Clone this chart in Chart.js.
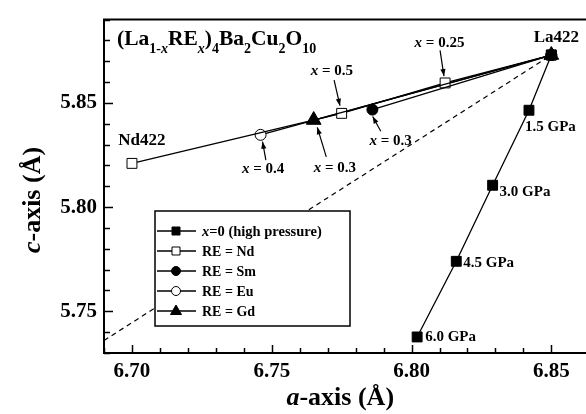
<!DOCTYPE html>
<html>
<head>
<meta charset="utf-8">
<script src="https://cdn.jsdelivr.net/npm/chart.js@4.4.1/dist/chart.umd.min.js"></script>
<style>
  body { margin: 0; background: #fff; }
  #wrap { width: 586px; height: 414px; }
</style>
</head>
<body>
<div id="wrap"><canvas id="chart" width="586" height="414"></canvas></div>
<script>
// lattice parameters (Angstrom)
const pressureLabels = ['0 GPa', '1.5 GPa', '3.0 GPa', '4.5 GPa', '6.0 GPa'];
const pressureA = [6.850, 6.842, 6.829, 6.816, 6.802];
const pressureC = [5.873, 5.8465, 5.8105, 5.774, 5.7377];

const ndA = [6.700, 6.775, 6.812, 6.850];
const ndC = [5.821, 5.845, 5.8596, 5.873];
const smA = [6.786, 6.850];
const smC = [5.8468, 5.873];
const euA = [6.746, 6.850];
const euC = [5.8347, 5.873];
const gdA = [6.765, 6.850];
const gdC = [5.8418, 5.873];

// constant c/a line through La422
const ratioA = [6.69, 6.85];
const ratioC = [5.736, 5.873];

const xTicks = [6.70, 6.75, 6.80, 6.85];
const yTicks = [5.75, 5.80, 5.85];

// x = ... annotations (label centre, arrow start, arrow tip), data units
const noteX = ['0.25', '0.5', '0.3', '0.3', '0.4'];
const notes = [
  { at: [6.8100, 5.8789], from: [6.8102, 5.8752], to: [6.8116, 5.8629] },
  { at: [6.7715, 5.8654], from: [6.7723, 5.8610], to: [6.7744, 5.8487] },
  { at: [6.7925, 5.8318], from: [6.7890, 5.8364], to: [6.7861, 5.8435] },
  { at: [6.7726, 5.8189], from: [6.7695, 5.8241], to: [6.7663, 5.8383] },
  { at: [6.7469, 5.8181], from: [6.7479, 5.8226], to: [6.7467, 5.8314] }
];
// pixel offsets of the pressure labels from their points
const gpaOffset = [null, [-4, 17], [7, 7], [7, 2], [8, 0]];

const SERIF = '"Liberation Serif", "Times New Roman", serif';
function font(size, italic) {
  return (italic ? 'italic ' : '') + 'bold ' + size + 'px ' + SERIF;
}
function pts(a, c) { return a.map((v, i) => ({ x: v, y: c[i] })); }

// draws a run of text pieces [text, size, italic, dy]
function rich(ctx, parts, x, y, align) {
  let w = 0;
  parts.forEach(p => { ctx.font = font(p[1], p[2]); w += ctx.measureText(p[0]).width; });
  let cx = align === 'center' ? x - w / 2 : (align === 'right' ? x - w : x);
  ctx.textAlign = 'left';
  parts.forEach(p => {
    ctx.font = font(p[1], p[2]);
    ctx.fillText(p[0], cx, y + (p[3] || 0));
    cx += ctx.measureText(p[0]).width;
  });
}

function arrow(ctx, x0, y0, x1, y1) {
  ctx.beginPath();
  ctx.moveTo(x0, y0);
  ctx.lineTo(x1, y1);
  ctx.stroke();
  const ang = Math.atan2(y1 - y0, x1 - x0);
  const L = 7, W = 2.6;
  ctx.beginPath();
  ctx.moveTo(x1, y1);
  ctx.lineTo(x1 - L * Math.cos(ang) + W * Math.sin(ang), y1 - L * Math.sin(ang) - W * Math.cos(ang));
  ctx.lineTo(x1 - L * Math.cos(ang) - W * Math.sin(ang), y1 - L * Math.sin(ang) + W * Math.cos(ang));
  ctx.closePath();
  ctx.fill();
}

function marker(ctx, style, filled, x, y) {
  ctx.beginPath();
  if (style === 'rect') ctx.rect(x - 4, y - 4, 8, 8);
  else if (style === 'circle') ctx.arc(x, y, 4.5, 0, Math.PI * 2);
  else { ctx.moveTo(x, y - 6); ctx.lineTo(x + 5.5, y + 3.5); ctx.lineTo(x - 5.5, y + 3.5); ctx.closePath(); }
  ctx.fillStyle = filled ? '#000' : '#fff';
  ctx.fill();
  ctx.stroke();
}

const legendItems = [
  { style: 'rect', filled: true, label: [['x', 14.5, true], ['=0 (high pressure)', 14.5, false]] },
  { style: 'rect', filled: false, label: [['RE = Nd', 14, false]] },
  { style: 'circle', filled: true, label: [['RE = Sm', 14, false]] },
  { style: 'circle', filled: false, label: [['RE = Eu', 14, false]] },
  { style: 'triangle', filled: true, label: [['RE = Gd', 14, false]] }
];

const decor = {
  id: 'decor',
  beforeDraw(chart) {
    const ctx = chart.ctx;
    ctx.save();
    ctx.fillStyle = '#fff';
    ctx.fillRect(0, 0, chart.width, chart.height);
    ctx.restore();
  },
  afterDatasetsDraw(chart) {
    const ctx = chart.ctx, area = chart.chartArea;
    const xs = chart.scales.x, ys = chart.scales.y;
    const px = v => xs.getPixelForValue(v), py = v => ys.getPixelForValue(v);
    ctx.save();
    ctx.strokeStyle = '#000';
    ctx.fillStyle = '#000';

    // frame (right side is cut off in the original)
    ctx.lineWidth = 2;
    ctx.beginPath();
    ctx.moveTo(chart.width, area.top);
    ctx.lineTo(area.left, area.top);
    ctx.lineTo(area.left, area.bottom);
    ctx.lineTo(chart.width, area.bottom);
    ctx.stroke();

    // inward ticks, minor every 0.01
    ctx.lineWidth = 1.5;
    for (let i = Math.ceil(xs.min * 100 - 1e-6); i <= Math.floor(xs.max * 100 + 1e-6); i++) {
      const p = Math.round(px(i / 100)) + 0.5, len = i % 5 === 0 ? 8 : 5;
      ctx.beginPath(); ctx.moveTo(p, area.bottom); ctx.lineTo(p, area.bottom - len); ctx.stroke();
    }
    for (let i = Math.ceil(ys.min * 100 - 1e-6); i <= Math.floor(ys.max * 100 + 1e-6); i++) {
      const p = Math.round(py(i / 100)) + 0.5, len = i % 5 === 0 ? 9 : 6;
      ctx.beginPath(); ctx.moveTo(area.left, p); ctx.lineTo(area.left + len, p); ctx.stroke();
    }

    // x = ... notes with arrows
    ctx.lineWidth = 1.2;
    ctx.textBaseline = 'middle';
    notes.forEach((n, i) => {
      rich(ctx, [['x', 15, true], [' = ' + noteX[i], 15, false]], px(n.at[0]), py(n.at[1]), 'center');
      arrow(ctx, px(n.from[0]), py(n.from[1]), px(n.to[0]), py(n.to[1]));
    });

    // pressure labels
    pressureLabels.forEach((t, i) => {
      if (!gpaOffset[i]) return;
      rich(ctx, [[t, 15, false]], px(pressureA[i]) + gpaOffset[i][0], py(pressureC[i]) + gpaOffset[i][1], 'left');
    });

    // end members
    rich(ctx, [['Nd422', 17, false]], px(ndA[0]) + 10, py(ndC[0]) - 23, 'center');
    rich(ctx, [['La422', 17, false]], px(pressureA[0]) + 5, py(pressureC[0]) - 17, 'center');

    // formula
    ctx.textBaseline = 'alphabetic';
    rich(ctx, [
      ['(La', 21.5], ['1-', 14, false, 8], ['x', 14, true, 8], ['RE', 21.5], ['x', 14, true, 8],
      [')', 21.5], ['4', 14, false, 8], ['Ba', 21.5], ['2', 14, false, 8], ['Cu', 21.5],
      ['2', 14, false, 8], ['O', 21.5], ['10', 14, false, 8]
    ], area.left + 13, area.top + 25, 'left');

    // legend
    const lx = 155, ly = 211, lw = 195, lh = 115;
    ctx.fillStyle = '#fff';
    ctx.fillRect(lx, ly, lw, lh);
    ctx.lineWidth = 1.5;
    ctx.strokeRect(lx, ly, lw, lh);
    ctx.textBaseline = 'middle';
    legendItems.forEach((it, i) => {
      const y = ly + 20 + i * 20;
      ctx.lineWidth = 1.3;
      ctx.beginPath(); ctx.moveTo(lx + 2, y); ctx.lineTo(lx + 41, y); ctx.stroke();
      ctx.lineWidth = 1;
      marker(ctx, it.style, it.filled, lx + 21, y);
      ctx.fillStyle = '#000';
      rich(ctx, it.label, lx + 47, y + 1, 'left');
    });

    // axis titles
    rich(ctx, [['a', 26, true], ['-axis (\u00C5)', 26, false]], (area.left + area.right) / 2, 398, 'center');
    ctx.translate(33, 200);
    ctx.rotate(-Math.PI / 2);
    rich(ctx, [['c', 26, true], ['-axis (\u00C5)', 26, false]], 0, 0, 'center');
    ctx.restore();
  }
};

function series(data, style, filled, radius, order, extra) {
  return Object.assign({
    data: data,
    showLine: true,
    borderColor: '#000',
    borderWidth: 1.3,
    pointStyle: style,
    pointRadius: radius,
    pointBorderWidth: 1,
    pointBorderColor: '#000',
    pointBackgroundColor: filled ? '#000' : '#fff',
    order: order
  }, extra || {});
}

new Chart(document.getElementById('chart'), {
  type: 'scatter',
  data: {
    datasets: [
      series(pts(ratioA, ratioC), 'circle', true, 0, 9, { borderDash: [5, 4], borderWidth: 1.2 }),
      series(pts(ndA, ndC), 'rect', false, 7, 4),
      series(pts(euA, euC), 'circle', false, 5.5, 4),
      series(pts(pressureA, pressureC), 'rect', true, 7, 2),
      series(pts(smA, smC), 'circle', true, 5.5, 1),
      series(pts(gdA, gdC), 'triangle', true, 8.5, 0)
    ]
  },
  options: {
    responsive: false,
    animation: false,
    devicePixelRatio: 1,
    layout: { padding: { top: 15, right: 0, left: 0, bottom: 0 } },
    plugins: { legend: { display: false }, tooltip: { enabled: false } },
    elements: { line: { tension: 0 } },
    scales: {
      x: {
        type: 'linear', min: 6.69, max: 6.859,
        grid: { display: false, drawTicks: false }, border: { display: false },
        afterBuildTicks: s => { s.ticks = xTicks.map(v => ({ value: v })); },
        ticks: {
          padding: 6, color: '#000', maxRotation: 0, autoSkip: false,
          font: { family: SERIF, size: 21, weight: 'bold' },
          callback: v => v.toFixed(2)
        },
        afterFit: s => { s.height = 61; }
      },
      y: {
        type: 'linear', min: 5.73, max: 5.89,
        grid: { display: false, drawTicks: false }, border: { display: false },
        afterBuildTicks: s => { s.ticks = yTicks.map(v => ({ value: v })); },
        ticks: {
          padding: 7, color: '#000', autoSkip: false,
          font: { family: SERIF, size: 21, weight: 'bold' },
          callback: v => v.toFixed(2)
        },
        afterFit: s => { s.width = 104; }
      }
    }
  },
  plugins: [decor]
});
</script>
</body>
</html>
